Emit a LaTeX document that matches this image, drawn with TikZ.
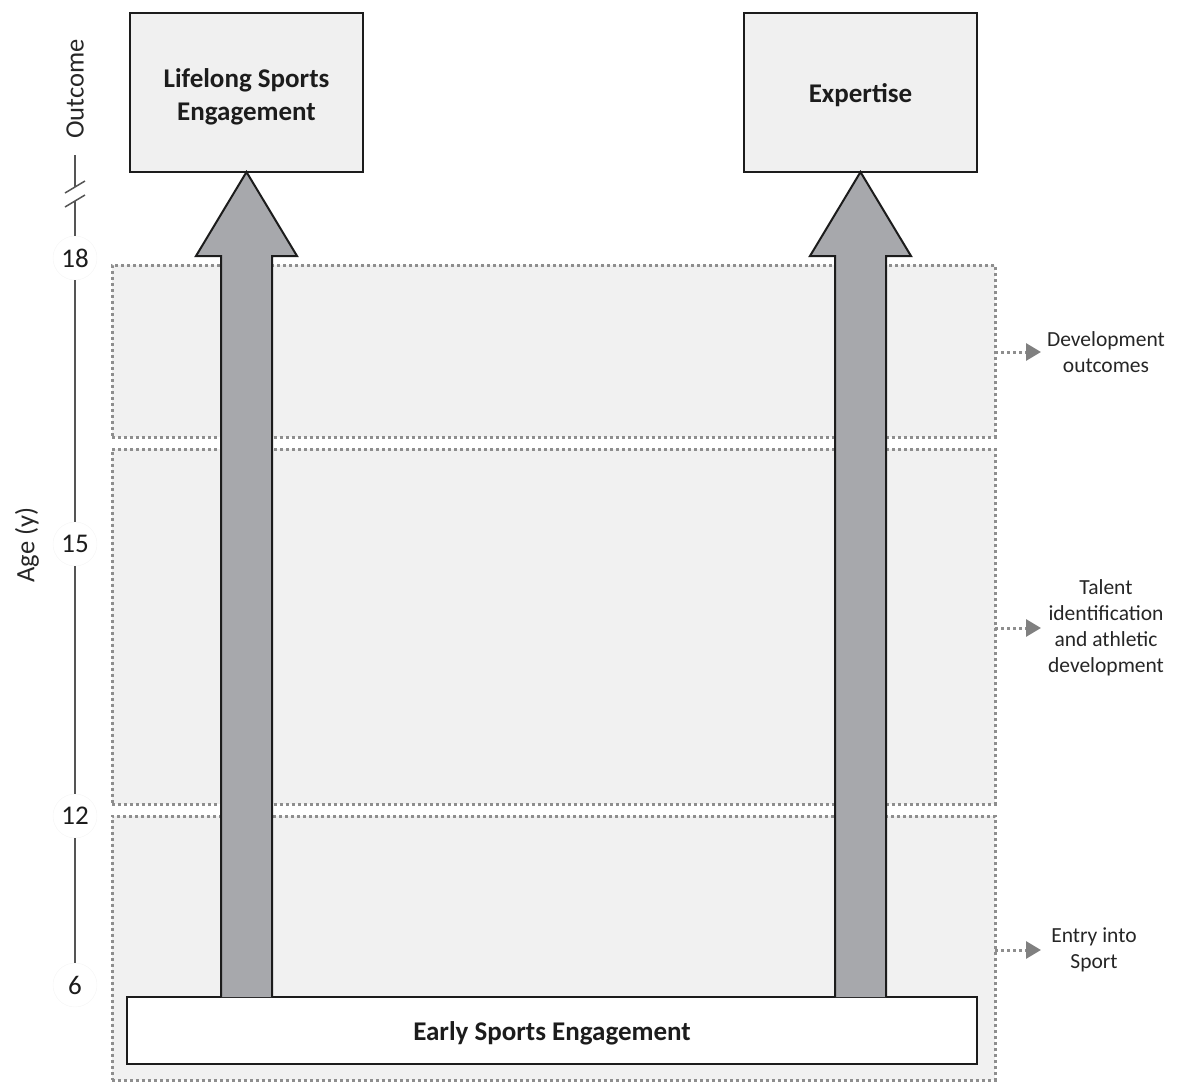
\documentclass[tikz,border=0pt]{standalone}
\usepackage{fontspec}
\setmainfont{Carlito}
\usetikzlibrary{arrows.meta,calc}
\definecolor{bandfill}{HTML}{F1F1F1}
\definecolor{banddots}{HTML}{8E8E8E}
\definecolor{boxfill}{HTML}{F0F0F0}
\definecolor{arrowfill}{HTML}{A7A8AC}
\definecolor{ink}{HTML}{1C1C1C}
\definecolor{axisgray}{HTML}{555555}
\tikzset{
  band/.style={draw=banddots, fill=bandfill, line width=3pt,
    dash pattern=on 3pt off 3pt, minimum width=883pt, inner sep=0pt, outer sep=0pt},
  outbox/.style={draw=ink, fill=boxfill, line width=2pt, minimum width=233pt,
    minimum height=159pt, inner sep=0pt, outer sep=0pt},
  boxtext/.style={align=center, font=\fontsize{27}{33}\selectfont\bfseries, text=ink},
  basebox/.style={draw=ink, fill=white, line width=2.2pt, minimum width=850pt,
    minimum height=67pt, inner sep=0pt, outer sep=0pt},
  bigarrow/.style={draw=ink, fill=arrowfill, line width=2pt, line join=miter},
  sidelabel/.style={align=center, font=\fontsize{21.5}{26}\selectfont, text=black!85},
  sidearrow/.style={draw=banddots, line width=3pt, dash pattern=on 3pt off 3pt,
    -{Triangle[length=15pt,width=17pt,fill=black!50,color=black!50]}},
  agenum/.style={circle, fill=white, draw=black!4, minimum size=44pt, inner sep=0pt,
    font=\fontsize{27}{30}\selectfont, text=ink},
  axislabel/.style={font=\fontsize{26.5}{30}\selectfont, text=black!85, rotate=90},
  axisline/.style={draw=axisgray, line width=1.5pt}
}
\begin{document}
\begin{tikzpicture}[x=1pt,y=-1pt]
\useasboundingbox (0,0) rectangle (1179,1082);

% age bands
\node[band, minimum height=172pt] (b1) at (553.5,351) {};
\node[band, minimum height=355pt] (b2) at (553.5,626.5) {};
\node[band, minimum height=264pt] (b3) at (553.5,948) {};

% outcome boxes
\node[outbox] (lifelong) at (246.5,92.5) {};
\node[boxtext] (lifelongtxt) at ($(lifelong)+(0,4)$) {Lifelong Sports\\Engagement};
\node[outbox] (expertise) at (860.5,92.5) {};
\node[boxtext] (expertisetxt) at ($(expertise)+(0,3)$) {Expertise};

% common base
\node[basebox] (early) at (552,1030.5) {};
\node[boxtext] (earlytxt) at ($(early)+(0,3)$) {Early Sports Engagement};

% block arrows from the base to each outcome
\foreach \target in {lifelong,expertise}{
  \draw[bigarrow]
    ($(\target.south |- early.north)+(-25.5,0)$) --
    ($(\target.south)+(-25.5,84)$) --
    ($(\target.south)+(-50.5,84)$) --
    (\target.south) --
    ($(\target.south)+(50.5,84)$) --
    ($(\target.south)+(25.5,84)$) --
    ($(\target.south |- early.north)+(25.5,0)$);
}

% stage labels on the right
\node[sidelabel] (dev) at (1106,352) {Development\\outcomes};
\node[sidelabel] (talent) at (1106,628) {Talent\\identification\\and athletic\\development};
\node[sidelabel] (entry) at (1094,950) {Entry into\\Sport};
\draw[sidearrow] (b1.east |- dev) -- ++(46,0) coordinate (devtip);
\draw[sidearrow] (b2.east |- talent) -- ++(46,0) coordinate (talenttip);
\draw[sidearrow] (b3.east |- entry) -- ++(46,0) coordinate (entrytip);

% age axis
\node[axislabel] (outlbl) at (75,89) {Outcome};
\node[axislabel] (agelbl) at (27,545) {Age (y)};
\coordinate (ax0) at (75,155);
\coordinate (brkA) at (75,187);
\coordinate (brkB) at (75,201);
\node[agenum] (n18) at (75,258) {18};
\node[agenum] (n15) at (75,544) {15};
\node[agenum] (n12) at (75,816) {12};
\node[agenum] (n6) at (75,985) {6};
\draw[axisline] (ax0) -- (brkA);
\draw[axisline] (brkB) -- (n18);
\draw[axisline] ($(brkA)+(-10,6)$) -- ($(brkA)+(10,-6)$);
\draw[axisline] ($(brkB)+(-10,6)$) -- ($(brkB)+(10,-6)$);
\draw[axisline] (n18) -- (n15);
\draw[axisline] (n15) -- (n12);
\draw[axisline] (n12) -- (n6);
\end{tikzpicture}
\end{document}
